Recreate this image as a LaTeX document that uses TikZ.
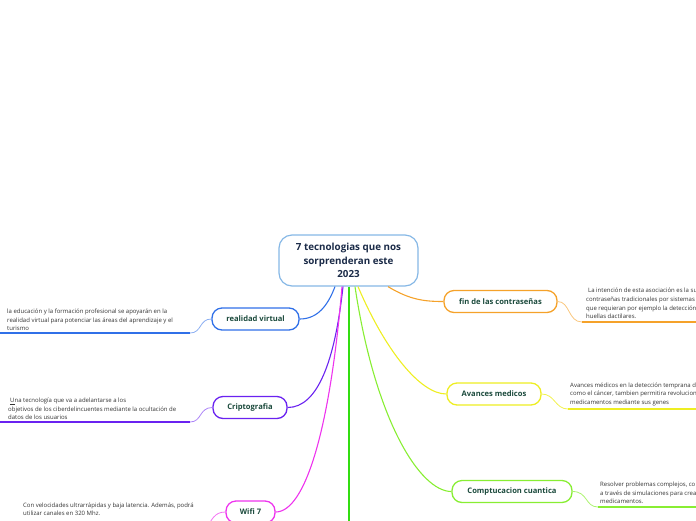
\documentclass[tikz,border=0pt]{standalone}
\usepackage{fontspec}
\setmainfont{Open Sans}
\definecolor{cblue}{HTML}{3070E8}
\definecolor{cpurple}{HTML}{6A22F0}
\definecolor{cmag}{HTML}{EE33EE}
\definecolor{brgreen}{HTML}{33DD11}
\definecolor{clgreen}{HTML}{88EE33}
\definecolor{cyellow}{HTML}{EEEE22}
\definecolor{corange}{HTML}{F5A22A}
\definecolor{cborder}{HTML}{86B8E6}
\definecolor{navy}{HTML}{1B2B48}
\definecolor{topictext}{HTML}{1B4A3C}
\definecolor{bodytext}{HTML}{333333}
\begin{document}
\begin{tikzpicture}[x=1pt,y=-1pt,
  central/.style={draw=cborder, line width=1.2pt, rounded corners=13pt, fill=white,
    minimum width=139pt, minimum height=51pt, inner sep=0pt, align=center,
    font=\fontsize{9.8}{13.5}\selectfont\bfseries, text=navy},
  topic/.style={draw, rounded corners=10pt, line width=1.3pt, fill=white,
    font=\fontsize{7.6}{8}\selectfont\bfseries, text=topictext, minimum height=22pt, inner sep=0pt},
  body/.style={font=\fontsize{6}{8.6}\selectfont, text=bodytext, align=left, inner sep=0pt},
  conn/.style={line width=1.1pt},
  subconn/.style={line width=0.8pt},
  uline/.style={line width=1.6pt},
]
\useasboundingbox (0,0) rectangle (696,520);

\coordinate (gend) at (349,530);

\node[central] (c) at (348.5,260.5) {7 tecnologias que nos\\sorprenderan este\\2023};

\node[topic, draw=cblue, minimum width=87pt] (rv) at (255.5,319) {realidad virtual};
\node[topic, draw=cpurple, minimum width=74pt] (cr) at (250,407.5) {Criptografia};
\node[topic, draw=cmag, minimum width=49pt] (wf) at (250.5,512) {Wifi 7};
\node[topic, draw=corange, minimum width=113pt] (fc) at (500.5,301.5) {fin de las contraseñas};
\node[topic, draw=cyellow, minimum width=94pt] (am) at (494,394) {Avances medicos};
\node[topic, draw=clgreen, minimum width=120pt] (cc) at (512,491.5) {Comptucacion cuantica};

\draw[conn, cblue] ([xshift=-13.5pt]c.south) .. controls (328,305) and (318,319) .. (rv.east);
\draw[conn, cpurple] ([xshift=-5.5pt]c.south) .. controls (335,360) and (318,407.5) .. (cr.east);
\draw[conn, cmag] ([xshift=-6.5pt]c.south) .. controls (330,430) and (305,512) .. (wf.east);
\draw[conn, brgreen] ([xshift=0.5pt]c.south) -- (gend);
\draw[conn, clgreen] ([xshift=6.5pt]c.south) .. controls (375,420) and (420,491.5) .. (cc.west);
\draw[conn, cyellow] ([xshift=9.5pt]c.south) .. controls (385,350) and (420,394) .. (am.west);
\draw[conn, corange] ([xshift=39.5pt]c.south) .. controls (410,300) and (425,301.5) .. (fc.west);

% sub branches
\coordinate (rvu) at (190,333); \coordinate (rvl) at (0,333);
\draw[subconn, cblue!55] (rv.west) .. controls (199,319) and (202,333) .. (rvu);
\draw[uline, cblue] (rvu) -- (rvl);

\coordinate (cru) at (190,422); \coordinate (crl) at (0,422);
\draw[subconn, cpurple!55] (cr.west) .. controls (199,407.5) and (202,422) .. (cru);
\draw[uline, cpurple] (cru) -- (crl);

\coordinate (wfu) at (205,530);
\draw[subconn, cmag!70] (wf.west) .. controls (214,512) and (212,520) .. (wfu);

\coordinate (fcu) at (582,322); \coordinate (fcr) at (696,322);
\draw[subconn, corange!60] (fc.east) .. controls (570,301.5) and (568,322) .. (fcu);
\draw[uline, corange] (fcu) -- (fcr);

\coordinate (amu) at (568,409); \coordinate (amr) at (696,409);
\draw[subconn, cyellow!80] (am.east) .. controls (555,394) and (555,409) .. (amu);
\draw[uline, cyellow] (amu) -- (amr);

\coordinate (ccu) at (598,507); \coordinate (ccr) at (696,507);
\draw[subconn, clgreen!70] (cc.east) .. controls (588,491.5) and (585,507) .. (ccu);
\draw[uline, clgreen] (ccu) -- (ccr);

% body texts
\node[body, anchor=south west] (rvt) at (7,331) {la educación y la formación profesional se apoyarán en la\\realidad virtual para potenciar las áreas del aprendizaje y el\\turismo};
\node[body, anchor=south west] (crt) at (8,420) {\hspace{2pt}\underline{U}na tecnología que va a adelantarse a los\\objetivos de los ciberdelincuentes mediante la ocultación de\\datos de los usuarios};
\node[body, anchor=north west] (wft) at (23,502.5) {Con velocidades ultrarrápidas y baja latencia. Además, podrá\\utilizar canales en 320 Mhz.};
\node[body, anchor=south west] (fct) at (586,319) {\hspace{2pt}La intención de esta asociación es la su\\contraseñas tradicionales por sistemas\\que requieran por ejemplo la detección\\huellas dactilares.};
\node[body, anchor=south west] (amt) at (570,406) {Avances médicos en la detección temprana d\\como el cáncer, tambien permitira revolucion\\medicamentos mediante sus genes};
\node[body, anchor=south west] (cct) at (600,504) {Resolver problemas complejos, co\\a través de simulaciones para crea\\medicamentos.};
\end{tikzpicture}
\end{document}
